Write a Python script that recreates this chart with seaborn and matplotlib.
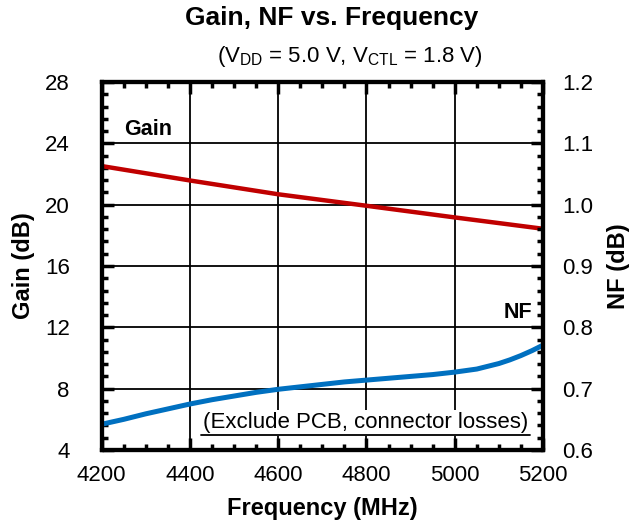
import numpy as np
import pandas as pd
import matplotlib
matplotlib.use("Agg")
import matplotlib.pyplot as plt
import seaborn as sns
from matplotlib.ticker import AutoMinorLocator

# waarden
freq_gain = [4200, 4400, 4600, 4800, 5000, 5200]
gain_db = [22.52, 21.58, 20.68, 19.93, 19.17, 18.43]

freq_nf = [4200, 4250, 4300, 4350, 4400, 4450, 4500, 4550, 4600, 4650, 4700, 4750,
           4800, 4850, 4900, 4950, 5000, 5050, 5100, 5125, 5150, 5175, 5200]
nf_db = [0.642, 0.650, 0.659, 0.667, 0.675, 0.682, 0.688, 0.694, 0.699, 0.703, 0.707, 0.711,
         0.714, 0.717, 0.720, 0.723, 0.727, 0.732, 0.741, 0.747, 0.754, 0.762, 0.771]

gain_ticks = [4, 8, 12, 16, 20, 24, 28]
nf_ticks = [0.6, 0.7, 0.8, 0.9, 1.0, 1.1, 1.2]
freq_ticks = [4200, 4400, 4600, 4800, 5000, 5200]

sns.set_style("white")
plt.rcParams['font.family'] = ['Liberation Sans', 'DejaVu Sans']
plt.rcParams['mathtext.fontset'] = 'custom'
plt.rcParams['mathtext.rm'] = 'Liberation Sans'
plt.rcParams['text.color'] = 'black'
plt.rcParams['axes.labelcolor'] = 'black'
plt.rcParams['xtick.color'] = 'black'
plt.rcParams['ytick.color'] = 'black'

df_gain = pd.DataFrame({"freq": freq_gain, "gain": gain_db})
df_nf = pd.DataFrame({"freq": freq_nf, "nf": nf_db})

fig = plt.figure(figsize=(6.29, 5.26), dpi=100)
ax = fig.add_axes([0.1617, 0.1445, 0.7016, 0.6995])
ax2 = ax.twinx()

sns.lineplot(data=df_gain, x="freq", y="gain", ax=ax, color="#C00000", linewidth=3.2)
sns.lineplot(data=df_nf, x="freq", y="nf", ax=ax2, color="#0070C0", linewidth=3.6)

ax.set_xlim(4200, 5200)
ax.set_ylim(4, 28)
ax2.set_ylim(0.6, 1.2)
ax.set_xticks(freq_ticks)
ax.set_yticks(gain_ticks)
ax2.set_yticks(nf_ticks)
ax2.set_yticklabels([f"{v:.1f}" for v in nf_ticks])
ax.xaxis.set_minor_locator(AutoMinorLocator(4))
ax.yaxis.set_minor_locator(AutoMinorLocator(5))
ax2.yaxis.set_minor_locator(AutoMinorLocator(5))

ax.grid(True, which="major", color="black", linewidth=1.3)
ax.set_axisbelow(True)

for a in (ax, ax2):
    for s in a.spines.values():
        s.set_linewidth(3)
        s.set_color("black")
    a.tick_params(which="major", direction="in", length=8.5, width=2.5, labelsize=16)
    a.tick_params(which="minor", direction="in", length=4.5, width=2.5)
ax.tick_params(axis="x", which="both", bottom=True, top=True, pad=11)
ax.tick_params(axis="y", which="both", left=True, right=False, pad=23)
ax2.tick_params(axis="y", which="both", right=True, left=False, pad=14)

ax.set_xlabel("Frequency (MHz)", fontsize=17, fontweight="bold", labelpad=8)
ax.set_ylabel("Gain (dB)", fontsize=17, fontweight="bold", labelpad=7)
ax2.set_ylabel("NF (dB)", fontsize=17, fontweight="bold", labelpad=10)

ax.text(4250, 24.9, "Gain", fontsize=15.5, fontweight="bold", va="center", ha="left")
ax.text(5175, 13.0, "NF", fontsize=15.5, fontweight="bold", va="center", ha="right")

note = ax2.text(0.966, 0.0734, "(Exclude PCB, connector losses)", transform=ax2.transAxes,
                fontsize=16, ha="right", va="center", zorder=5,
                bbox=dict(facecolor="white", edgecolor="none", pad=2))

fig.text(0.528, 0.966, "Gain, NF vs. Frequency", fontsize=19, fontweight="bold", ha="center", va="center")
fig.text(0.556, 0.892, r"(V$_{\mathregular{DD}}$ = 5.0 V, V$_{\mathregular{CTL}}$ = 1.8 V)",
         fontsize=16, ha="center", va="center")

# streep onder de notitie, op basis van de afmetingen van de tekst
fig.canvas.draw()
bb = note.get_window_extent().transformed(ax2.transAxes.inverted())
ax2.plot([bb.x0 - 0.004, bb.x1 + 0.004], [bb.y0 - 0.004, bb.y0 - 0.004], transform=ax2.transAxes,
         color="black", linewidth=1.3, zorder=6, clip_on=False)

fig.savefig("out.png", dpi=100)
